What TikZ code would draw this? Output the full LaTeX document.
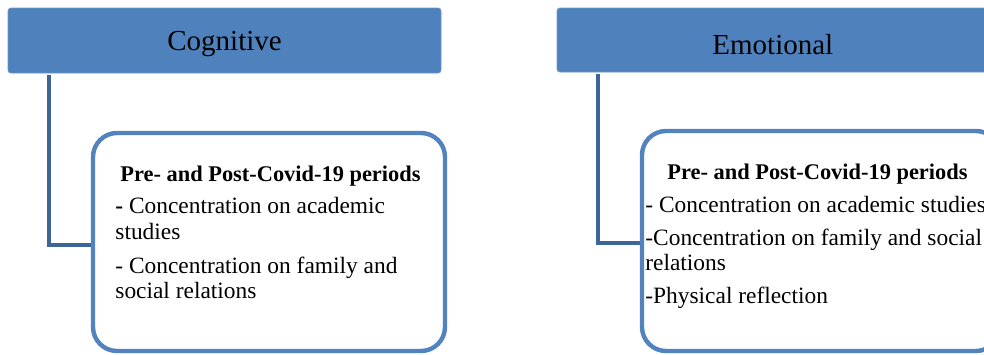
\documentclass[tikz,border=0pt]{standalone}
\usepackage{fontspec}
\setmainfont{Liberation Serif}
\definecolor{hdrblue}{HTML}{4F81BD}
\definecolor{hdredge}{HTML}{6E95C8}
\definecolor{linkblue}{HTML}{3E6598}
\definecolor{boxblue}{HTML}{5283BE}
\tikzset{
  header/.style={fill=hdrblue, draw=hdredge, line width=0.4pt, rounded corners=1.5pt},
  contentbox/.style={draw=boxblue, line width=2.2pt, rounded corners=12pt, fill=white},
  link/.style={draw=linkblue, line width=2.4pt},
  hdrtext/.style={anchor=base west, inner sep=0pt, font=\fontsize{14.5}{16}\selectfont},
  bodytext/.style={anchor=base west, inner sep=0pt, font=\fontsize{11.7}{13}\selectfont},
  titletext/.style={anchor=base west, inner sep=0pt, font=\fontsize{11.2}{13}\selectfont\bfseries},
}
\begin{document}
\begin{tikzpicture}[x=0.5pt,y=-0.5pt]
\useasboundingbox (0,0) rectangle (984,354);
% headers
\path[header] (8,8) rectangle (441,73);
\coordinate (cogtop) at (49,75);
\path[header] (557,8) rectangle (1000,72);
\coordinate (emotop) at (598,74);
\node[hdrtext] (cog) at (167,50) {Cognitive};
\node[hdrtext] (emo) at (712,54) {Emotional};
% connectors
\coordinate (cogbend) at (49,245);
\coordinate (cogend) at (93,245);
\draw[link] (cogtop) -- (cogbend) -- (cogend);
\coordinate (emobend) at (598,243);
\coordinate (emoend) at (642,243);
\draw[link] (emotop) -- (emobend) -- (emoend);
% content boxes
\path[contentbox] (93,133) rectangle (445,351);
\path[contentbox] (642,131) rectangle (1000,351);
% cognitive text
\node[titletext] (ct) at (120,181) {Pre- and Post-Covid-19 periods};
\node[bodytext] (c1) at (115,213) {\textbf{-} Concentration on academic};
\node[bodytext] (c2) at (115,239) {studies};
\node[bodytext] (c3) at (115,273) {- Concentration on family and};
\node[bodytext] (c4) at (115,298) {social relations};
% emotional text
\node[titletext] (et) at (667,179) {Pre- and Post-Covid-19 periods};
\node[bodytext] (e1) at (645,212) {- Concentration on academic studies};
\node[bodytext] (e2) at (645,245) {-Concentration on family and social};
\node[bodytext] (e3) at (645,270) {relations};
\node[bodytext] (e4) at (645,303) {-Physical reflection};
\end{tikzpicture}
\end{document}
